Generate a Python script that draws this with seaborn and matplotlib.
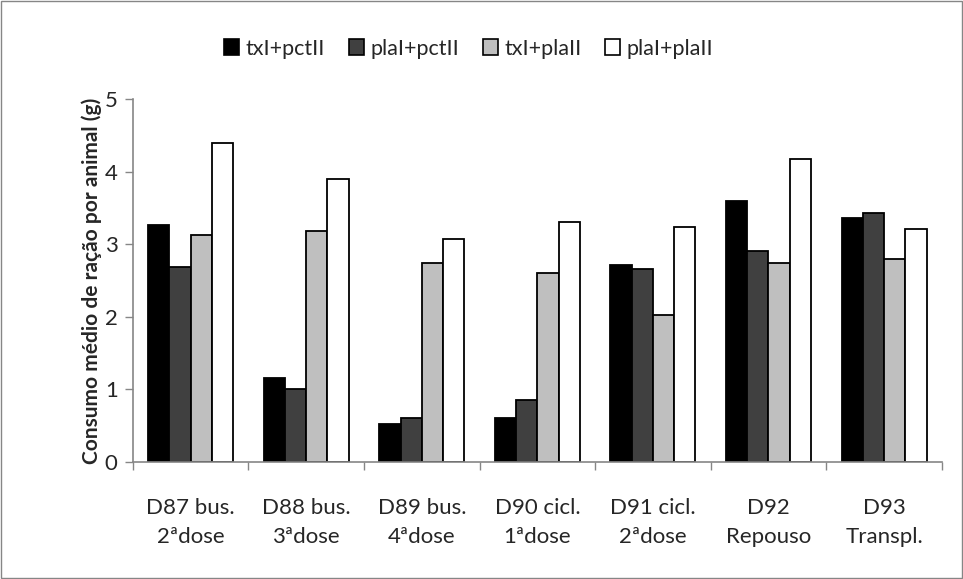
import matplotlib
matplotlib.use("Agg")
import matplotlib.pyplot as plt
import seaborn as sns
import pandas as pd
import numpy as np
from matplotlib.patches import Rectangle
from matplotlib.ticker import FixedLocator

categories = ["D87 bus.\n2ªdose", "D88 bus.\n3ªdose", "D89 bus.\n4ªdose", "D90 cicl.\n1ªdose",
              "D91 cicl.\n2ªdose", "D92\nRepouso", "D93\nTranspl."]
series_names = ["txI+pctII", "plaI+pctII", "txI+plaII", "plaI+plaII"]
txI_pctII = [3.27, 1.16, 0.52, 0.61, 2.72, 3.60, 3.36]
plaI_pctII = [2.69, 1.01, 0.60, 0.85, 2.66, 2.91, 3.43]
txI_plaII = [3.13, 3.18, 2.74, 2.61, 2.03, 2.74, 2.80]
plaI_plaII = [4.40, 3.90, 3.07, 3.30, 3.24, 4.17, 3.21]
colors = ["#000000", "#404040", "#bfbfbf", "#ffffff"]
y_ticks = [0, 1, 2, 3, 4, 5]
y_label = "Consumo médio de ração por animal (g)"

rows = []
for name, vals in zip(series_names, [txI_pctII, plaI_pctII, txI_plaII, plaI_plaII]):
    for c, v in zip(categories, vals):
        rows.append({"cat": c, "series": name, "val": v})
df = pd.DataFrame(rows)

sns.set_style("white")
plt.rcParams['font.family'] = ['Lato', 'DejaVu Sans']

fig = plt.figure(figsize=(9.63, 5.79), dpi=100)
ax = fig.add_axes([0.138, 0.202, 0.840, 0.627])

sns.barplot(data=df, x="cat", y="val", hue="series", order=categories, hue_order=series_names,
            palette=colors, width=0.735, edgecolor="black", linewidth=1.3, saturation=1,
            errorbar=None, ax=ax)

ax.set_ylim(0, 5)
ax.set_xlim(-0.5, len(categories) - 0.5)
ax.set_yticks(y_ticks)
ax.set_yticklabels([str(t) for t in y_ticks], fontsize=16)
ax.tick_params(axis="y", direction="out", length=6, width=1, color="#868686", left=True, pad=5)
ax.set_xticks(range(len(categories)))
ax.set_xticklabels(categories, fontsize=16, linespacing=1.55)
ax.tick_params(axis="x", which="major", length=0, pad=26)
ax.xaxis.set_minor_locator(FixedLocator(np.arange(-0.5, len(categories), 1.0)))
ax.tick_params(axis="x", which="minor", direction="out", length=6, width=1, color="#868686", bottom=True)
ax.set_xlabel("")
ax.set_ylabel(y_label, fontsize=15, fontweight="bold", labelpad=2)
for s in ["top", "right"]:
    ax.spines[s].set_visible(False)
for s in ["left", "bottom"]:
    ax.spines[s].set_color("#868686")
    ax.spines[s].set_linewidth(1.2)

leg = ax.legend(loc="upper center", bbox_to_anchor=(0.415, 1.22), ncol=4, frameon=False,
                fontsize=15.5, handlelength=0.7, handleheight=0.7, handletextpad=0.3,
                columnspacing=1.1)
for h in leg.legend_handles:
    h.set_edgecolor("black")
    h.set_linewidth(1.2)

fig.patches.append(Rectangle((0.001, 0.001), 0.998, 0.997, transform=fig.transFigure,
                             fill=False, edgecolor="#868686", linewidth=1))

fig.savefig("out.png", dpi=100)
